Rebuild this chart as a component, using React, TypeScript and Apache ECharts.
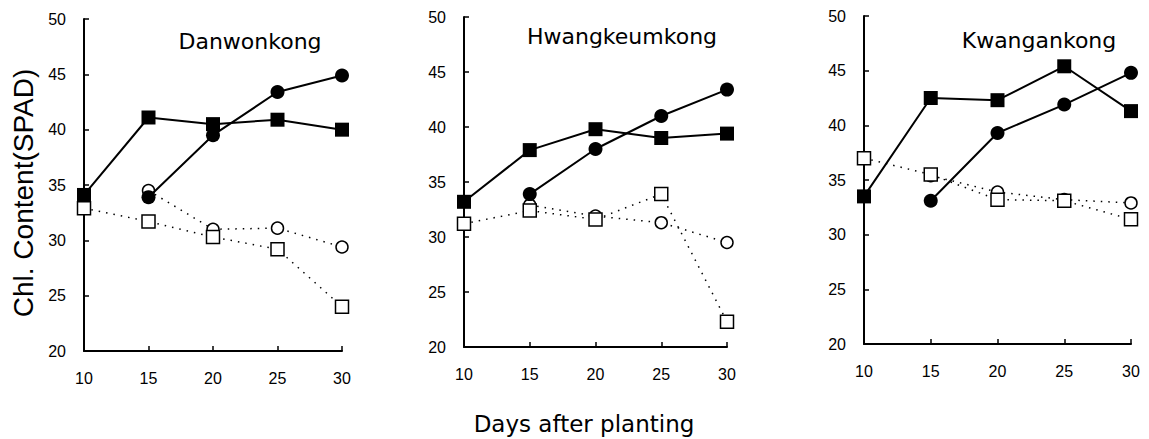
import React, { useEffect, useRef } from "react";
import * as echarts from "echarts";

// ---- data ----
const days = [10, 15, 20, 25, 30];
const panelTitles = ["Danwonkong", "Hwangkeumkong", "Kwangankong"];
const yTicks = [20, 25, 30, 35, 40, 45, 50];

// Danwonkong
const danFilledSquare = [34.1, 41.1, 40.5, 40.9, 40.0];
const danFilledCircle = [null, 33.9, 39.5, 43.4, 44.9];
const danOpenCircle = [null, 34.5, 31.0, 31.1, 29.4];
const danOpenSquare = [32.9, 31.7, 30.3, 29.2, 24.0];

// Hwangkeumkong
const hwaFilledSquare = [33.2, 37.9, 39.8, 39.0, 39.4];
const hwaFilledCircle = [null, 33.9, 38.0, 41.0, 43.4];
const hwaOpenCircle = [null, 32.9, 31.9, 31.3, 29.5];
const hwaOpenSquare = [31.2, 32.4, 31.6, 33.9, 22.3];

// Kwangankong
const kwaFilledSquare = [33.5, 42.5, 42.3, 45.4, 41.3];
const kwaFilledCircle = [null, 33.1, 39.3, 41.9, 44.8];
const kwaOpenCircle = [null, 35.4, 33.9, 33.2, 32.9];
const kwaOpenSquare = [37.0, 35.5, 33.2, 33.1, 31.4];

const panels = [
  { fs: danFilledSquare, fc: danFilledCircle, oc: danOpenCircle, os: danOpenSquare },
  { fs: hwaFilledSquare, fc: hwaFilledCircle, oc: hwaOpenCircle, os: hwaOpenSquare },
  { fs: kwaFilledSquare, fc: kwaFilledCircle, oc: kwaOpenCircle, os: kwaOpenSquare },
];

const toPairs = (vals: (number | null)[]) =>
  days
    .map((d, i) => (vals[i] == null ? null : [d, vals[i] as number]))
    .filter((p) => p !== null) as number[][];

export default function App() {
  const ref = useRef<HTMLDivElement>(null);

  useEffect(() => {
    if (!ref.current) return;
    const chart = echarts.init(ref.current, undefined, { renderer: "svg" });

    const grids = [
      { left: 84, top: 19, width: 258, height: 332 },
      { left: 464, top: 17, width: 263, height: 330 },
      { left: 864, top: 16, width: 267, height: 328 },
    ];
    const titlePos = [
      { x: 250, y: 41 },
      { x: 622, y: 36 },
      { x: 1039, y: 40 },
    ];

    const axisFont = "'Liberation Sans', Arial, sans-serif";

    const xAxis = grids.map((_, i) => ({
      type: "value",
      gridIndex: i,
      min: 10,
      max: 30,
      interval: 5,
      axisLine: { show: true, onZero: false, lineStyle: { color: "#000", width: 2 } },
      axisTick: { show: true, inside: true, length: 5, lineStyle: { color: "#000", width: 1.5 } },
      axisLabel: { color: "#000", fontSize: 16, fontFamily: axisFont, margin: 19 },
      splitLine: { show: false },
    }));

    const yAxis = grids.map((_, i) => ({
      type: "value",
      gridIndex: i,
      min: yTicks[0],
      max: yTicks[yTicks.length - 1],
      interval: 5,
      axisLine: { show: true, onZero: false, lineStyle: { color: "#000", width: 2 } },
      axisTick: { show: true, inside: true, length: 5, lineStyle: { color: "#000", width: 1.5 } },
      axisLabel: { color: "#000", fontSize: 16, fontFamily: axisFont, margin: 18 },
      splitLine: { show: false },
    }));

    const series: any[] = [];
    panels.forEach((p, i) => {
      const common = { xAxisIndex: i, yAxisIndex: i, type: "line", silent: true };
      series.push({
        ...common,
        name: "oc" + i,
        data: toPairs(p.oc),
        symbol: "circle",
        symbolSize: 12,
        itemStyle: { color: "#fff", borderColor: "#000", borderWidth: 1.5 },
        lineStyle: { color: "#000", width: 1.5, type: [1.5, 6] },
        z: 2,
      });
      series.push({
        ...common,
        name: "os" + i,
        data: toPairs(p.os),
        symbol: "rect",
        symbolSize: 13,
        itemStyle: { color: "#fff", borderColor: "#000", borderWidth: 1.5 },
        lineStyle: { color: "#000", width: 1.5, type: [1.5, 6] },
        z: 3,
      });
      series.push({
        ...common,
        name: "fc" + i,
        data: toPairs(p.fc),
        symbol: "circle",
        symbolSize: 14,
        itemStyle: { color: "#000" },
        lineStyle: { color: "#000", width: 2 },
        z: 4,
      });
      series.push({
        ...common,
        name: "fs" + i,
        data: toPairs(p.fs),
        symbol: "rect",
        symbolSize: 14,
        itemStyle: { color: "#000" },
        lineStyle: { color: "#000", width: 2 },
        z: 5,
      });
    });

    const graphic: any[] = panelTitles.map((t, i) => ({
      type: "text",
      x: titlePos[i].x,
      y: titlePos[i].y,
      style: {
        text: t,
        fontSize: 22,
        fontFamily: "'DejaVu Sans', sans-serif",
        fill: "#000",
        align: "center",
        verticalAlign: "middle",
        textAlign: "center",
        textVerticalAlign: "middle",
      },
    }));
    graphic.push({
      type: "text",
      x: 23,
      y: 193,
      rotation: Math.PI / 2,
      style: {
        text: "Chl. Content(SPAD)",
        fontSize: 28,
        fontFamily: axisFont,
        fill: "#000",
        align: "center",
        verticalAlign: "middle",
        textAlign: "center",
        textVerticalAlign: "middle",
      },
    });
    graphic.push({
      type: "text",
      x: 584,
      y: 424,
      style: {
        text: "Days after planting",
        fontSize: 23,
        fontFamily: "'DejaVu Sans', sans-serif",
        fill: "#000",
        align: "center",
        verticalAlign: "middle",
        textAlign: "center",
        textVerticalAlign: "middle",
      },
    });

    chart.setOption({
      animation: false,
      backgroundColor: "#fff",
      grid: grids,
      xAxis,
      yAxis,
      series,
      graphic,
    });

    return () => chart.dispose();
  }, []);

  return (
    <div
      ref={ref}
      style={{ position: "absolute", left: 0, top: 0, width: 1149, height: 439 }}
    />
  );
}
